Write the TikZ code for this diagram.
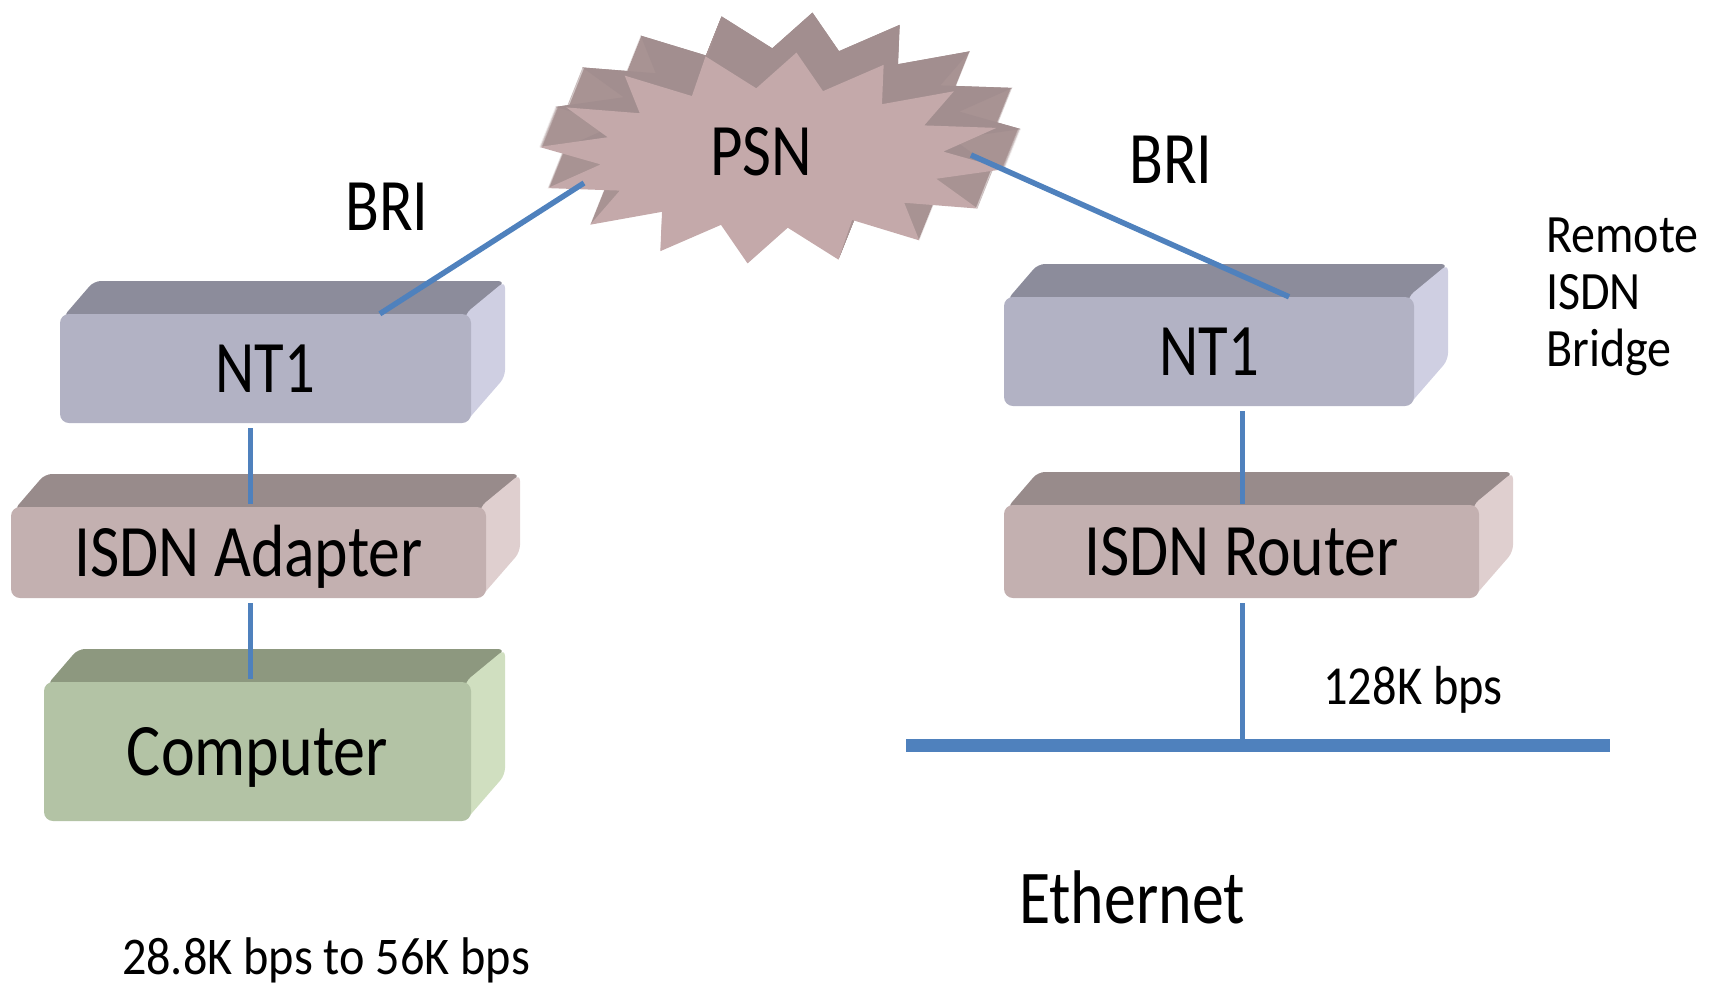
\documentclass[tikz,border=0pt]{standalone}
\usepackage{fontspec}
\setmainfont{Carlito}
\usepackage{graphicx}
\usetikzlibrary{calc}
\definecolor{lnblue}{HTML}{4F81BD}
\definecolor{ntfront}{HTML}{B2B2C4}
\definecolor{nttop}{HTML}{8C8C9B}
\definecolor{ntside}{HTML}{CFCFE2}
\definecolor{isfront}{HTML}{C3B0B0}
\definecolor{istop}{HTML}{988B8B}
\definecolor{isside}{HTML}{DFCFCF}
\definecolor{cpfront}{HTML}{B3C3A5}
\definecolor{cptop}{HTML}{8D987F}
\definecolor{cpside}{HTML}{D0DFC0}
\definecolor{starfront}{HTML}{C4A9AA}
\definecolor{starback}{HTML}{9E8B8C}
\tikzset{
  devface/.style={rounded corners=9pt, inner sep=0pt, draw=none, text height=47pt, text depth=0pt},
  wire/.style={draw=lnblue, line width=5.5pt},
  lbl/.style={inner sep=0pt, text=black},
}
\newcommand\fsz[1]{\fontsize{#1}{#1}\selectfont}
% #1 name, #2 x1, #3 y1, #4 x2, #5 y2, #6 colour prefix, #7 text, #8 xscale
\newcommand\devbox[8]{%
  \fill[#6top, rounded corners=7pt] (#2+3,#3+3) -- (#2+34,#3-33) -- (#4+34,#3-33) -- (#4,#3+3) -- cycle;
  \fill[#6side, rounded corners=7pt] (#4-6,#3) -- (#4+34,#3-33) -- (#4+34,#5-46) -- (#4-6,#5) -- cycle;
  \node[devface, fill=#6front, minimum width={#4-#2}, minimum height={#5-#3},
        font=\fsz{74}] (#1) at ({(#2+#4)/2},{(#3+#5)/2}) {\scalebox{#8}[1]{#7}};
}
\newcommand\starpath{plot[samples at={0,...,31}, variable=\t]
    ({772+ifthenelse(mod(\t,2)==0,234,172)*cos(\t*360/32+6)},
     {158+ifthenelse(mod(\t,2)==0,106,70)*sin(\t*360/32+6)}) -- cycle}
\begin{document}
\begin{tikzpicture}[x=1pt,y=-1pt]
\useasboundingbox (0,0) rectangle (1711,986);

% PSN star (extruded)
\foreach \k in {1,0.975,...,0.02}{
  \fill[starback!75!starfront, shift={({16*\k},{-40*\k})}] \starpath;
}
\fill[starback!90!starfront, shift={(16,-40)}] \starpath;
\fill[starfront] \starpath;
\node[lbl, font=\fsz{74}, text height=47pt, text depth=0pt] (psn) at (761,152) {\scalebox{0.85}[1]{PSN}};
\coordinate (psnL) at (584,183);
\coordinate (psnR) at (971,155);

% boxes
\devbox{ntl}{60}{314}{471}{423}{nt}{NT1}{0.82}
\devbox{adp}{11}{507}{486}{598}{is}{ISDN Adapter}{0.86}
\devbox{cmp}{44}{682}{471}{821}{cp}{Computer}{0.865}
\devbox{ntr}{1004}{297}{1414}{406}{nt}{NT1}{0.82}
\devbox{rtr}{1004}{505}{1479}{598}{is}{ISDN Router}{0.86}

% ethernet
\coordinate (ethL) at (906,745);
\coordinate (ethR) at (1610,745);
\draw[draw=lnblue, line width=13pt] (ethL) -- (ethR);

% connectors
\draw[wire] ($(ntl.north west)!0.778!(ntl.north east)$) -- (psnL);
\draw[wire] ($(ntr.north west)!0.695!(ntr.north east)$) -- (psnR);
\draw[wire] ($(ntl.south -| adp.north)+(2,5)$) -- ($(adp.north)+(2,-3)$);
\draw[wire] ($(adp.south)+(2,5)$) -- ($(adp.south |- cmp.north)+(2,-3)$);
\draw[wire] ($(ntr.south -| rtr.north)+(1,5)$) -- ($(rtr.north)+(1,-1)$);
\draw[wire] ($(rtr.south)+(1,5)$) -- ($(rtr.south |- ethL)+(1,0)$);

% labels
\node[lbl, font=\fsz{74}] (bril) at (387,207) {\scalebox{0.84}[1]{BRI}};
\node[lbl, font=\fsz{74}] (brir) at (1171,160) {\scalebox{0.84}[1]{BRI}};
\node[lbl, font=\fsz{54}, anchor=west, align=left] (rib) at (1546,297)
  {\scalebox{0.89}[1]{Remote}\\[3pt]\scalebox{0.89}[1]{ISDN}\\[3pt]\scalebox{0.89}[1]{Bridge}};
\node[lbl, font=\fsz{55}] (spd) at (1413,690) {\scalebox{0.88}[1]{128K bps}};
\node[lbl, font=\fsz{76}] (eth) at (1132,897) {\scalebox{0.84}[1]{Ethernet}};
\node[lbl, font=\fsz{53}] (rate) at (326,960) {\scalebox{0.91}[1]{28.8K bps to 56K bps}};
\end{tikzpicture}
\end{document}
